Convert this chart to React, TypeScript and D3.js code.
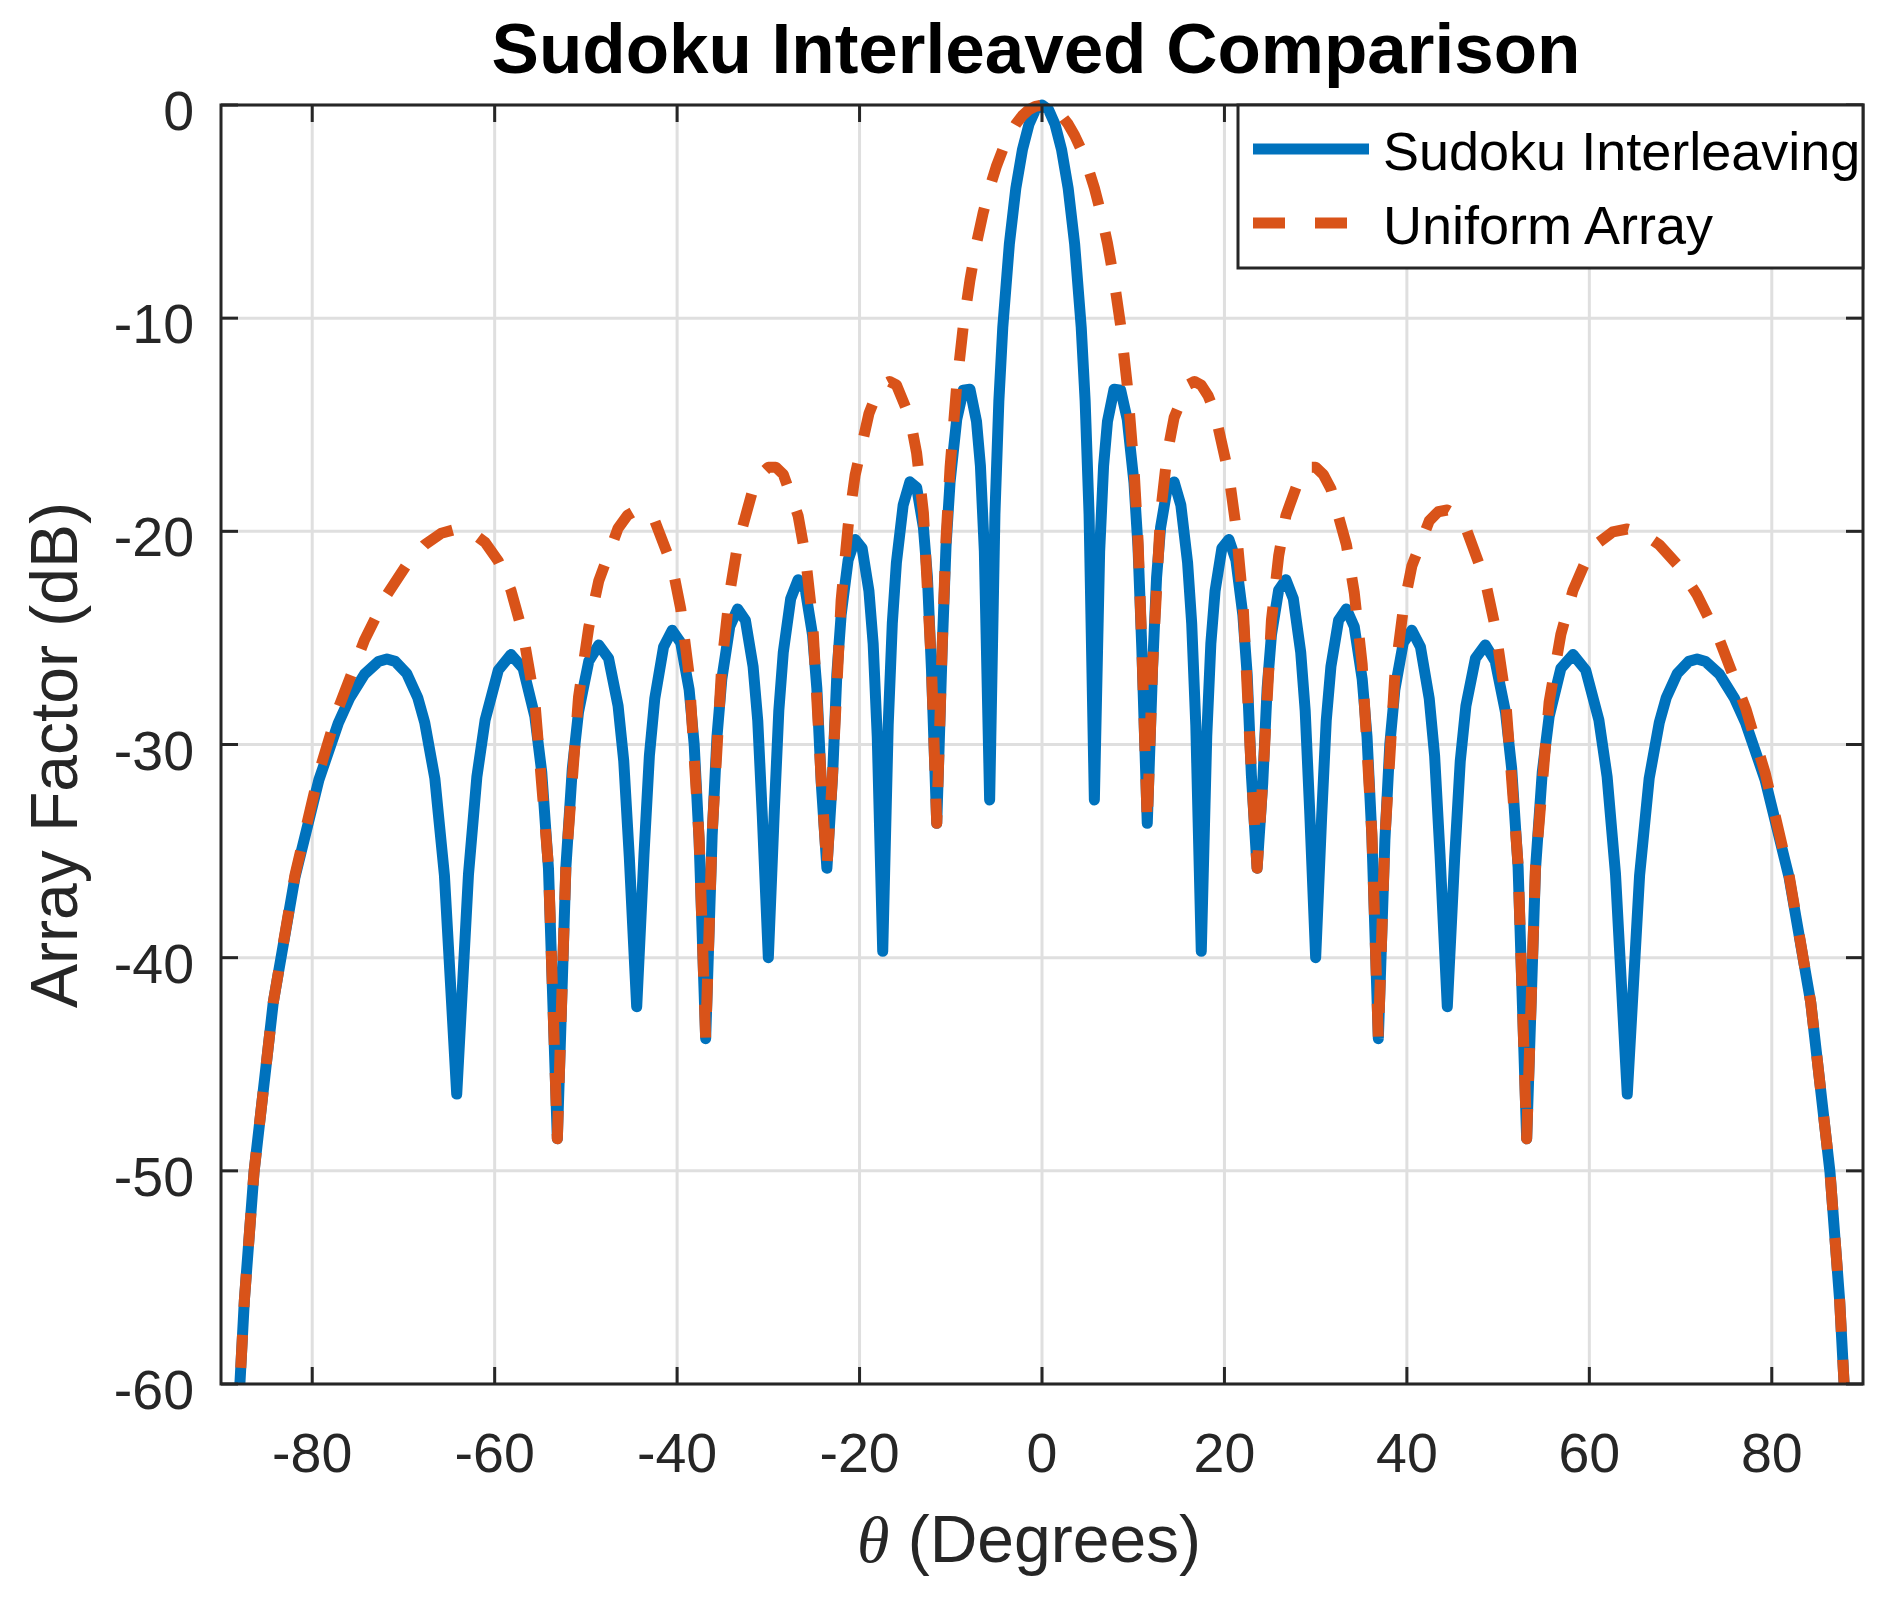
import React from "react";
import * as d3 from "d3";

// ---------- data, one line per lobe ----------
const thetaSudoku = [
  -88.19, -87.44, -86.38, -84.27, -81.89, -79.27, -77.16, -75.93, -74.26, -72.75, -71.81, -70.91, -69.64, -68.43, -67.67, -66.56, -65.51,
  -64.16, -62.87, -61.95, -61.05, -59.60, -58.21, -56.88, -55.59, -54.84, -54.10,
  -53.13, -52.19, -51.49, -50.81, -49.68, -48.59, -47.52, -46.47, -45.85, -45.24,
  -44.43, -43.63, -43.04, -42.45, -41.49, -40.54, -39.61, -38.68, -38.13, -37.59,
  -36.87, -36.16, -35.63, -35.10, -34.23, -33.37, -32.51, -31.67, -31.16, -30.66,
  -30.00, -29.34, -28.85, -28.36, -27.55, -26.74, -25.94, -25.15, -24.68, -24.20,
  -23.58, -22.95, -22.49, -22.02, -21.25, -20.49, -19.72, -18.97, -18.51, -18.06,
  -17.46, -16.86, -16.41, -15.96, -15.22, -14.48, -13.74, -13.00, -12.56, -12.12,
  -11.54, -10.95, -10.52, -10.08, -9.35, -8.63, -7.90, -7.18, -6.75, -6.32,
  -5.74, -5.16, -4.73, -4.30, -3.58, -2.87, -2.15, -1.43, -0.72, 0,
  0.72, 1.43, 2.15, 2.87, 3.58, 4.30, 4.73, 5.16, 5.74,
  6.32, 6.75, 7.18, 7.90, 8.63, 9.35, 10.08, 10.52, 10.95, 11.54,
  12.12, 12.56, 13.00, 13.74, 14.48, 15.22, 15.96, 16.41, 16.86, 17.46,
  18.06, 18.51, 18.97, 19.72, 20.49, 21.25, 22.02, 22.49, 22.95, 23.58,
  24.20, 24.68, 25.15, 25.94, 26.74, 27.55, 28.36, 28.85, 29.34, 30.00,
  30.66, 31.16, 31.67, 32.51, 33.37, 34.23, 35.10, 35.63, 36.16, 36.87,
  37.59, 38.13, 38.68, 39.61, 40.54, 41.49, 42.45, 43.04, 43.63, 44.43,
  45.24, 45.85, 46.47, 47.52, 48.59, 49.68, 50.81, 51.49, 52.19, 53.13,
  54.10, 54.84, 55.59, 56.88, 58.21, 59.60, 61.05, 61.95, 62.87, 64.16,
  65.51, 66.56, 67.67, 68.43, 69.64, 70.91, 71.81, 72.75, 74.26, 75.93, 77.16, 79.27, 81.89, 84.27, 86.38, 87.44, 88.19,
];
const afSudoku = [
  -62.1, -56.08, -50.06, -42.1, -36.22, -31.66, -29.02, -27.85, -26.70, -26.11, -25.99, -26.10, -26.67, -27.81, -28.97, -31.59, -36.13,
  -46.4, -36.09, -31.51, -28.86, -26.51, -25.78, -26.43, -28.70, -31.30, -35.83,
  -48.5, -35.74, -31.14, -28.48, -26.09, -25.33, -25.95, -28.19, -30.78, -35.29,
  -42.3, -35.15, -30.53, -27.85, -25.43, -24.64, -25.22, -27.43, -29.99, -34.48,
  -43.8, -34.28, -29.64, -26.93, -24.47, -23.64, -24.18, -26.35, -28.88, -33.35,
  -40.0, -33.07, -28.41, -25.67, -23.16, -22.27, -22.76, -24.87, -27.37, -31.79,
  -35.8, -31.41, -26.71, -23.93, -21.34, -20.38, -20.79, -22.81, -25.26, -29.62,
  -39.7, -29.09, -24.32, -21.47, -18.77, -17.68, -17.94, -19.82, -22.16, -26.43,
  -33.7, -25.59, -20.69, -17.70, -14.76, -13.38, -13.33, -14.84, -16.94, -20.93,
  -32.6, -19.20, -13.89, -10.43, -6.53, -3.91, -2.11, -0.91, -0.22, 0,
  -0.22, -0.91, -2.11, -3.91, -6.53, -10.43, -13.89, -19.20, -32.6,
  -20.93, -16.94, -14.84, -13.33, -13.38, -14.76, -17.70, -20.69, -25.59, -33.7,
  -26.43, -22.16, -19.82, -17.94, -17.68, -18.77, -21.47, -24.32, -29.09, -39.7,
  -29.62, -25.26, -22.81, -20.79, -20.38, -21.34, -23.93, -26.71, -31.41, -35.8,
  -31.79, -27.37, -24.87, -22.76, -22.27, -23.16, -25.67, -28.41, -33.07, -40.0,
  -33.35, -28.88, -26.35, -24.18, -23.64, -24.47, -26.93, -29.64, -34.28, -43.8,
  -34.48, -29.99, -27.43, -25.22, -24.64, -25.43, -27.85, -30.53, -35.15, -42.3,
  -35.29, -30.78, -28.19, -25.95, -25.33, -26.09, -28.48, -31.14, -35.74, -48.5,
  -35.83, -31.30, -28.70, -26.43, -25.78, -26.51, -28.86, -31.51, -36.09, -46.4,
  -36.13, -31.59, -28.97, -27.81, -26.67, -26.10, -25.99, -26.11, -26.70, -27.85, -29.02, -31.66, -36.22, -42.1, -50.06, -56.08, -62.1,
];

const thetaUniform = [
  -88.19, -87.44, -86.38, -84.27, -81.89, -79.27, -77.16, -74.26, -71.81, -69.64,
  -67.67, -65.85, -64.16, -62.57, -61.05, -59.60, -58.21, -56.88, -55.59, -54.10,
  -53.13, -52.19, -50.81, -49.68, -48.59, -46.47, -45.44, -44.43, -43.43, -42.45, -40.54, -39.61, -38.68, -37.59,
  -36.87, -36.16, -35.10, -34.23, -33.37, -31.67, -30.83, -30.00, -29.18, -28.36, -26.74, -25.94, -25.15, -24.20,
  -23.58, -22.95, -22.02, -21.25, -20.49, -18.97, -18.21, -17.46, -16.71, -15.96, -14.48, -13.74, -13.00, -12.12,
  -11.54, -10.95, -10.52, -10.08, -9.35, -8.63, -7.90, -7.18, -6.46, -5.74, -5.02, -4.30, -3.58, -2.87, -2.15, -1.43, -0.72, 0,
  0.72, 1.43, 2.15, 2.87, 3.58, 4.30, 5.02, 5.74, 6.46, 7.18, 7.90, 8.63, 9.35, 10.08, 10.52, 10.95, 11.54,
  12.12, 13.00, 13.74, 14.48, 15.96, 16.71, 17.46, 18.21, 18.97, 20.49, 21.25, 22.02, 22.95, 23.58,
  24.20, 25.15, 25.94, 26.74, 28.36, 29.18, 30.00, 30.83, 31.67, 33.37, 34.23, 35.10, 36.16, 36.87,
  37.59, 38.68, 39.61, 40.54, 42.45, 43.43, 44.43, 45.44, 46.47, 48.59, 49.68, 50.81, 52.19, 53.13,
  54.10, 55.59, 56.88, 58.21, 59.60, 61.05, 62.57, 64.16, 65.85, 67.67,
  69.64, 71.81, 74.26, 77.16, 79.27, 81.89, 84.27, 86.38, 87.44, 88.19,
];
const afUniform = [
  -62.1, -56.08, -50.06, -42.1, -36.12, -31.33, -28.33, -25.09, -22.98, -21.56,
  -20.63, -20.09, -19.89, -20.03, -20.52, -21.40, -22.77, -24.83, -28.01, -35.73,
  -48.5, -35.64, -27.79, -24.49, -22.32, -19.85, -19.25, -19.00, -19.08, -19.51, -21.63, -23.62, -26.74, -34.38,
  -43.8, -34.18, -26.24, -22.87, -20.63, -18.01, -17.33, -16.99, -16.99, -17.33, -19.26, -21.16, -24.18, -31.69,
  -35.8, -31.31, -23.23, -19.74, -17.37, -14.47, -13.64, -13.14, -12.97, -13.13, -14.67, -16.34, -19.13, -26.33,
  -33.7, -25.48, -20.35, -17.02, -13.15, -10.37, -8.22, -6.49, -5.07, -3.89, -2.90, -2.09, -1.43, -0.90, -0.50, -0.22, -0.06, 0,
  -0.06, -0.22, -0.50, -0.90, -1.43, -2.09, -2.90, -3.89, -5.07, -6.49, -8.22, -10.37, -13.15, -17.02, -20.35, -25.48, -33.7,
  -26.33, -19.13, -16.34, -14.67, -13.13, -12.97, -13.14, -13.64, -14.47, -17.37, -19.74, -23.23, -31.31, -35.8,
  -31.69, -24.18, -21.16, -19.26, -17.33, -16.99, -16.99, -17.33, -18.01, -20.63, -22.87, -26.24, -34.18, -43.8,
  -34.38, -26.74, -23.62, -21.63, -19.51, -19.08, -19.00, -19.25, -19.85, -22.32, -24.49, -27.79, -35.64, -48.5,
  -35.73, -28.01, -24.83, -22.77, -21.40, -20.52, -20.03, -19.89, -20.09, -20.63,
  -21.56, -22.98, -25.09, -28.33, -31.33, -36.12, -42.1, -50.06, -56.08, -62.1,
];

const xTicks = [-80, -60, -40, -20, 0, 20, 40, 60, 80];
const yTicks = [-60, -50, -40, -30, -20, -10, 0];
const seriesNames = ["Sudoku Interleaving", "Uniform Array"];

// ---------- layout ----------
const W = 1889;
const H = 1599;
const L = 221;
const R = 1863;
const T = 105;
const B = 1384;
const AXC = "#262626";
const BLUE = "#0072BD";
const ORANGE = "#D95319";
const FONT = "'Liberation Sans', Arial, Helvetica, sans-serif";

export default function App() {
  const x = d3.scaleLinear().domain([-90, 90]).range([L, R]);
  const y = d3.scaleLinear().domain([-60, 0]).range([B, T]);

  const n1 = Math.min(thetaSudoku.length, afSudoku.length);
  const n2 = Math.min(thetaUniform.length, afUniform.length);
  const lineSudoku = d3
    .line<number>()
    .x((_, i) => x(thetaSudoku[i]))
    .y((d) => y(d))(afSudoku.slice(0, n1)) as string;
  const lineUniform = d3
    .line<number>()
    .x((_, i) => x(thetaUniform[i]))
    .y((d) => y(d))(afUniform.slice(0, n2)) as string;

  const tickLen = 17;
  const fmt = (t: number) => (t < 0 ? "-" + Math.abs(t) : String(t));

  return (
    <svg
      width={W}
      height={H}
      viewBox={`0 0 ${W} ${H}`}
      style={{ position: "absolute", left: 0, top: 0, background: "#fff", display: "block" }}
    >
      <rect x={0} y={0} width={W} height={H} fill="#fff" />
      <defs>
        <clipPath id="plotClip">
          <rect x={L - 12} y={T - 12} width={R - L + 24} height={B - T + 12} />
        </clipPath>
      </defs>

      {/* grid */}
      <g stroke="#dfdfdf" strokeWidth={3}>
        {xTicks.map((t) => (
          <line key={"gx" + t} x1={x(t)} x2={x(t)} y1={T} y2={B} />
        ))}
        {yTicks.map((t) => (
          <line key={"gy" + t} x1={L} x2={R} y1={y(t)} y2={y(t)} />
        ))}
      </g>

      {/* data */}
      <g clipPath="url(#plotClip)" fill="none">
        <path d={lineSudoku} stroke={BLUE} strokeWidth={11} strokeLinejoin="round" strokeLinecap="butt" />
        <path
          d={lineUniform}
          stroke={ORANGE}
          strokeWidth={11}
          strokeDasharray="33 28"
          strokeLinejoin="round"
          strokeLinecap="butt"
        />
      </g>

      {/* axes box and ticks */}
      <g stroke={AXC} strokeWidth={3} fill="none">
        <rect x={L} y={T} width={R - L} height={B - T} />
        {xTicks.map((t) => (
          <g key={"tx" + t}>
            <line x1={x(t)} x2={x(t)} y1={B} y2={B - tickLen} />
            <line x1={x(t)} x2={x(t)} y1={T} y2={T + tickLen} />
          </g>
        ))}
        {yTicks.map((t) => (
          <g key={"ty" + t}>
            <line x1={L} x2={L + tickLen} y1={y(t)} y2={y(t)} />
            <line x1={R} x2={R - tickLen} y1={y(t)} y2={y(t)} />
          </g>
        ))}
      </g>

      {/* tick labels */}
      <g fontFamily={FONT} fontSize={55.5} fill={AXC}>
        {xTicks.map((t) => (
          <text key={"lx" + t} x={x(t)} y={1472} textAnchor="middle">
            {fmt(t)}
          </text>
        ))}
        {yTicks.map((t) => (
          <text key={"ly" + t} x={194} y={y(t) + 25} textAnchor="end">
            {fmt(t)}
          </text>
        ))}
      </g>

      {/* axis labels */}
      <text x={1029} y={1562} textAnchor="middle" fontFamily={FONT} fontSize={66} fill={AXC}>
        <tspan fontFamily="'Liberation Serif', 'DejaVu Serif', serif" fontStyle="italic">
          θ
        </tspan>
        <tspan> (Degrees)</tspan>
      </text>
      <text
        transform="translate(77,755) rotate(-90)"
        textAnchor="middle"
        fontFamily={FONT}
        fontSize={66}
        fill={AXC}
      >
        Array Factor (dB)
      </text>

      {/* title */}
      <text x={1036} y={73} textAnchor="middle" fontFamily={FONT} fontSize={71} fontWeight="bold" fill="#000">
        Sudoku Interleaved Comparison
      </text>

      {/* legend */}
      <g>
        <rect x={1238} y={T} width={R - 1238} height={163} fill="#fff" stroke={AXC} strokeWidth={3} />
        <line x1={1253} x2={1369} y1={149} y2={149} stroke={BLUE} strokeWidth={11} />
        <line x1={1253} x2={1369} y1={223} y2={223} stroke={ORANGE} strokeWidth={11} strokeDasharray="32 30" />
        <text x={1383} y={170} fontFamily={FONT} fontSize={54} fill="#000">
          {seriesNames[0]}
        </text>
        <text x={1383} y={244} fontFamily={FONT} fontSize={54} fill="#000">
          {seriesNames[1]}
        </text>
      </g>
    </svg>
  );
}
